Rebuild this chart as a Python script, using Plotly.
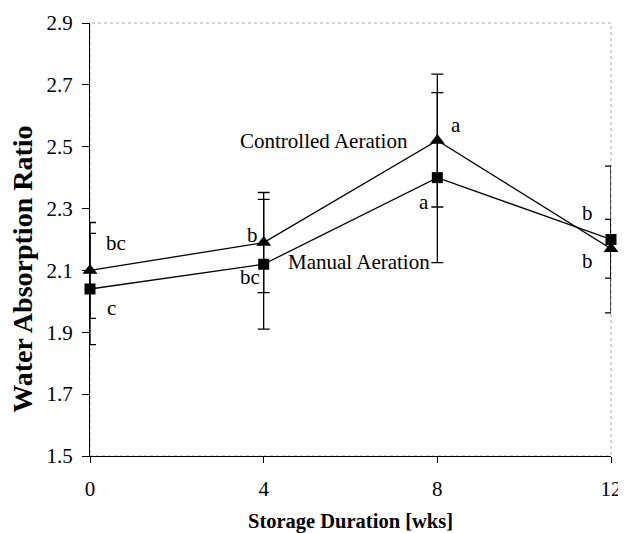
import plotly.graph_objects as go

weeks = [0, 4, 8, 12]
controlled = [2.10, 2.19, 2.52, 2.17]
controlled_err = [0.155, 0.162, 0.215, 0.095]
manual = [2.04, 2.12, 2.40, 2.20]
manual_err = [0.18, 0.21, 0.275, 0.237]

letters_text = ["bc", "c", "b", "bc", "a", "a", "b", "b"]
letters_x = [0.6, 0.5, 3.75, 3.68, 8.42, 7.7, 11.47, 11.47]
letters_y = [2.19, 1.98, 2.215, 2.08, 2.57, 2.32, 2.285, 2.13]

series_labels = ["Controlled Aeration", "Manual Aeration"]
series_label_x = [5.39, 6.2]
series_label_y = [2.52, 2.127]

yticks = [1.5, 1.7, 1.9, 2.1, 2.3, 2.5, 2.7, 2.9]

FONT = "Liberation Serif"

fig = go.Figure()
fig.add_trace(go.Scatter(
    x=weeks, y=controlled, mode="lines+markers",
    line=dict(color="black", width=1.3),
    marker=dict(symbol="triangle-up", size=13, color="black"),
    error_y=dict(type="data", array=controlled_err, color="black", thickness=1.3, width=6),
    cliponaxis=False, showlegend=False,
))
fig.add_trace(go.Scatter(
    x=weeks, y=manual, mode="lines+markers",
    line=dict(color="black", width=1.3),
    marker=dict(symbol="square", size=11, color="black"),
    error_y=dict(type="data", array=manual_err, color="black", thickness=1.3, width=6),
    cliponaxis=False, showlegend=False,
))

for t, x, y in zip(letters_text, letters_x, letters_y):
    fig.add_annotation(x=x, y=y, text=t, showarrow=False,
                       font=dict(family=FONT, size=21, color="black"))
for t, x, y in zip(series_labels, series_label_x, series_label_y):
    fig.add_annotation(x=x, y=y, text=t, showarrow=False,
                       font=dict(family=FONT, size=21, color="black"))

# y-axis title placed as rotated annotation (sits slightly below plot centre)
fig.add_annotation(xref="paper", yref="paper", x=-0.129, y=0.432,
                   text="<b>Water Absorption Ratio</b>", textangle=-90,
                   showarrow=False, xanchor="center", yanchor="middle",
                   font=dict(family=FONT, size=28, color="black"))

fig.add_shape(type="rect", xref="paper", yref="paper", x0=0, y0=0, x1=1, y1=1,
              line=dict(color="#aaaaaa", width=1, dash="dot"), layer="below")

# page body has an 8px default margin, so the figure is sized to fit the window
fig.update_layout(
    width=618, height=525,
    margin=dict(l=82, r=15, t=15, b=77),
    plot_bgcolor="white", paper_bgcolor="white",
    font=dict(family=FONT, size=21, color="black"),
)
fig.update_xaxes(
    range=[0, 12], tickvals=weeks, showgrid=False, zeroline=False,
    showline=True, linecolor="black", linewidth=1.3, automargin=False,
    ticks="outside", ticklen=6, tickcolor="black", ticklabelstandoff=8,
    tickfont=dict(family=FONT, size=21),
    title=dict(text="<b>Storage Duration [wks]</b>", standoff=14,
               font=dict(family=FONT, size=20.5)),
)
fig.update_yaxes(
    range=[1.5, 2.9], tickvals=yticks, tickformat=".1f", showgrid=False, zeroline=False,
    showline=True, linecolor="black", linewidth=1.3, automargin=False,
    ticks="outside", ticklen=7, tickcolor="black", ticklabelstandoff=5,
    tickfont=dict(family=FONT, size=21),
)

fig.write_html("out.html")
